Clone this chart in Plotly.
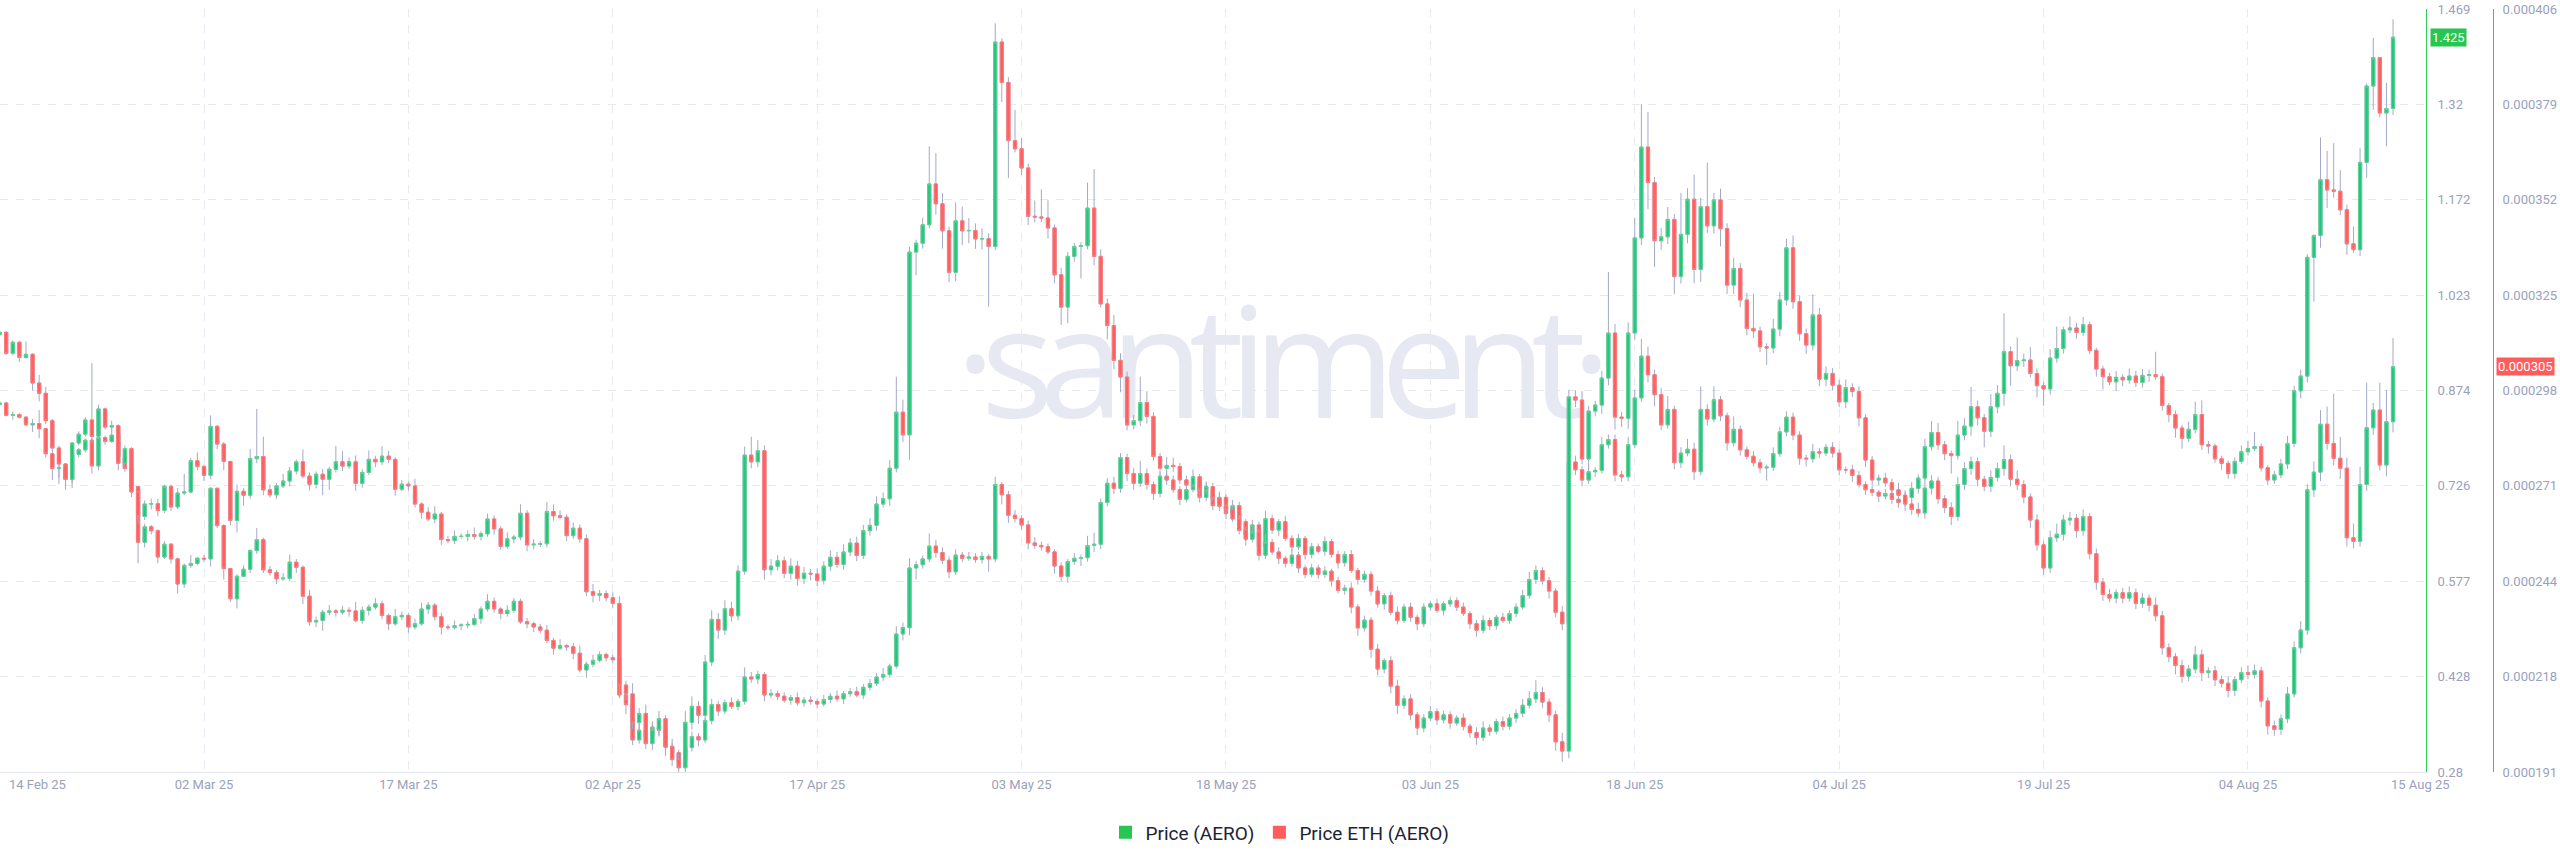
import numpy as np
import pandas as pd
import plotly.graph_objects as go

# ---------------- data: 12-hour candles ----------------
start_time = "2025-02-14 12:00"

# Price (AERO) in USD
usd_open0 = 0.853
usd_close = [
    # 14 Feb - 04 Mar
    0.855, 0.836, 0.837, 0.833, 0.821, 0.823, 0.815, 0.776, 0.753, 0.754,
    0.736, 0.775, 0.782, 0.797, 0.757, 0.801, 0.795, 0.805, 0.771, 0.753,
    0.725, 0.638, 0.662, 0.656, 0.615, 0.635, 0.612, 0.573, 0.602, 0.605,
    0.613, 0.612, 0.722, 0.664, 0.597, 0.550, 0.585, 0.596, 0.625, 0.642,
    0.595,
    # March
    0.591, 0.581, 0.582, 0.607, 0.599, 0.554, 0.514, 0.516, 0.529, 0.531,
    0.529, 0.532, 0.531, 0.516, 0.532, 0.537, 0.542, 0.524, 0.511, 0.522,
    0.524, 0.506, 0.511, 0.534, 0.540, 0.522, 0.506, 0.505, 0.508, 0.509,
    0.510, 0.519, 0.534, 0.546, 0.534, 0.527, 0.532, 0.546, 0.514, 0.511,
    0.506, 0.501, 0.485, 0.473, 0.477, 0.475, 0.465, 0.439, 0.448, 0.454,
    0.463, 0.458,
    # April - mid May
    0.455, 0.400, 0.385, 0.330, 0.345, 0.335, 0.350, 0.345, 0.320, 0.310,
    0.298, 0.318, 0.335, 0.330, 0.360, 0.385, 0.375, 0.388, 0.382, 0.390,
    0.428, 0.425, 0.432, 0.400, 0.402, 0.398, 0.392, 0.396, 0.388, 0.392,
    0.390, 0.386, 0.393, 0.398, 0.394, 0.402, 0.405, 0.400, 0.412, 0.418,
    0.428, 0.432, 0.445, 0.495, 0.505, 0.598, 0.603, 0.612, 0.632, 0.622,
    0.610, 0.592, 0.618, 0.613, 0.615, 0.611, 0.616, 0.612, 0.728, 0.712,
    0.680, 0.675, 0.665, 0.637, 0.633, 0.631, 0.623, 0.601, 0.585, 0.608,
    0.613, 0.614, 0.633, 0.635, 0.700, 0.730, 0.722, 0.770, 0.745, 0.730,
    0.745, 0.728, 0.714, 0.741, 0.735, 0.720, 0.705,
    # mid May - 13 Jun
    0.720, 0.733, 0.708, 0.720, 0.695, 0.708, 0.683, 0.695, 0.670, 0.650,
    0.665, 0.631, 0.675, 0.657, 0.670, 0.644, 0.631, 0.644, 0.619, 0.631,
    0.624, 0.639, 0.619, 0.606, 0.619, 0.594, 0.580, 0.588, 0.562, 0.542,
    0.555, 0.529, 0.516, 0.537, 0.521, 0.511, 0.537, 0.542, 0.532, 0.542,
    0.547, 0.537, 0.527, 0.511, 0.501, 0.516, 0.508, 0.521, 0.516, 0.527,
    0.537, 0.555, 0.580, 0.594, 0.578, 0.562, 0.529, 0.511, 0.763,
    # 14 Jun - 20 Jul
    0.751, 0.735, 0.748, 0.750, 0.790, 0.798, 0.743, 0.740, 0.790, 0.863,
    0.928, 0.899, 0.868, 0.821, 0.845, 0.762, 0.777, 0.783, 0.748, 0.845,
    0.830, 0.860, 0.835, 0.793, 0.814, 0.782, 0.772, 0.762, 0.754, 0.755,
    0.776, 0.810, 0.833, 0.805, 0.769, 0.768, 0.779, 0.777, 0.786, 0.777,
    0.751, 0.751, 0.742, 0.728, 0.720, 0.716, 0.710, 0.714, 0.705, 0.700,
    0.708, 0.722, 0.738, 0.787, 0.809, 0.790, 0.776, 0.773, 0.805, 0.819,
    0.849, 0.832, 0.811, 0.849, 0.870, 0.935, 0.913, 0.921, 0.922, 0.901,
    0.882, 0.877, 0.925, 0.940,
    # 21 Jul - 15 Aug
    0.969, 0.972, 0.965, 0.977, 0.937, 0.908, 0.896, 0.888, 0.895, 0.891,
    0.897, 0.887, 0.898, 0.899, 0.896, 0.851, 0.837, 0.816, 0.800, 0.814,
    0.837, 0.790, 0.788, 0.768, 0.761, 0.745, 0.764, 0.779, 0.784, 0.787,
    0.754, 0.735, 0.743, 0.760, 0.792, 0.874, 0.897, 1.082, 1.116, 1.203,
    1.187, 1.185, 1.156, 1.103, 1.094, 1.230, 1.349, 1.393, 1.307, 1.314,
    1.425,
]
# wick lengths above / below the body, in thousandths of a dollar
usd_wick_up = [
    2, 2, 5, 2, 1, 7, 21, 1, 2, 30, 3, 1, 3, 3, 3, 2, 3, 10, 3, 4,
    2, 0, 5, 3, 2, 5, 2, 2, 3, 13, 2, 5, 2, 2, 2, 1, 3, 6, 2, 18, 3,
    6, 4, 8, 12, 5, 3, 10, 6, 4, 9, 3, 7, 5, 14, 6, 4, 9, 5, 3, 12,
    6, 4, 8, 10, 5, 3, 6, 4, 8, 3, 5, 7, 4, 11, 6, 3, 8, 5, 4, 6,
    3, 5, 8, 4, 10, 3, 6, 12, 4, 9, 5, 3,
    5, 8, 4, 6, 12, 5, 9, 4, 7, 6, 5, 10, 8, 6, 4, 9, 6, 5, 8, 4,
    15, 8, 6, 4, 7, 5, 6, 4, 8, 5, 6, 4, 7, 5, 9, 4, 6, 8, 5, 7,
    6, 10, 4, 12, 8, 15, 6, 5, 20, 10, 8, 6, 9, 5, 8, 6, 7, 4, 12, 4,
    6, 8, 5, 7, 9, 6, 5, 4, 6, 4, 8, 5, 15, 18, 6, 8, 10, 7, 6, 9,
    20, 8, 5, 6, 8, 7, 5,
    6, 8, 5, 10, 4, 7, 5, 9, 6, 4, 8, 5, 12, 6, 4, 9, 5, 7, 4, 6,
    5, 8, 4, 6, 5, 7, 4, 6, 5, 8, 4, 6, 9, 5, 7, 4, 6, 5, 8, 4,
    6, 5, 7, 4, 6, 8, 5, 4, 7, 5, 6, 9, 12, 8, 5, 6, 4, 10, 12,
    10, 6, 8, 5, 12, 8, 8, 6, 12, 13, 27, 15, 8, 10, 21, 6, 9, 16, 10, 36,
    8, 21, 6, 5, 20, 6, 5, 8, 6, 4, 10, 8, 9, 7, 6, 5, 12, 6, 5, 8,
    6, 5, 8, 7, 5, 6, 4, 7, 5, 6, 8, 10, 6, 12, 18, 15, 6, 5, 22, 12,
    31, 10, 6, 20, 13, 60, 8, 36, 10, 20, 8, 6, 14, 34,
    5, 18, 8, 12, 5, 4, 5, 6, 10, 5, 12, 8, 10, 8, 36, 5, 4, 6, 5, 12,
    20, 22, 6, 4, 5, 4, 6, 10, 12, 23, 5, 4, 6, 8, 12, 8, 10, 5, 2, 66,
    45, 73, 33, 8, 27, 22, 4, 31, 0, 40, 28,
]
usd_wick_dn = [
    2, 2, 7, 2, 2, 11, 15, 6, 18, 24, 9, 6, 5, 4, 12, 7, 5, 2, 6, 5,
    5, 33, 8, 6, 10, 3, 7, 15, 6, 4, 3, 5, 12, 4, 17, 5, 15, 0, 6, 5, 5,
    5, 8, 3, 4, 9, 12, 6, 8, 16, 5, 7, 4, 9, 3, 5, 8, 4, 6, 10, 3,
    5, 9, 4, 3, 8, 6, 12, 4, 3, 7, 5, 3, 8, 4, 6, 9, 5, 4, 3, 7,
    8, 5, 4, 10, 3, 6, 9, 4, 12, 5, 3, 6,
    6, 5, 15, 8, 6, 10, 5, 8, 6, 12, 8, 5, 6, 10, 5, 6, 8, 5, 4, 6,
    5, 6, 8, 10, 5, 6, 4, 7, 5, 6, 5, 7, 4, 6, 5, 8, 5, 4, 6, 5,
    4, 6, 5, 4, 10, 12, 18, 6, 5, 8, 6, 10, 5, 6, 4, 5, 6, 20, 5, 15,
    12, 6, 8, 10, 5, 6, 4, 12, 8, 10, 5, 12, 6, 10, 8, 6, 9, 7, 12, 10,
    6, 8, 10, 6, 8, 5, 9,
    5, 4, 8, 6, 7, 4, 9, 5, 6, 10, 4, 8, 5, 6, 9, 4, 7, 5, 8, 6,
    4, 7, 5, 9, 6, 4, 8, 5, 7, 6, 9, 5, 6, 4, 7, 10, 5, 6, 4, 8,
    5, 6, 4, 8, 10, 5, 7, 6, 4, 5, 6, 4, 5, 7, 6, 12, 8, 10, 6,
    8, 10, 6, 8, 5, 6, 10, 8, 7, 5, 6, 12, 18, 8, 6, 10, 8, 5, 13, 6,
    10, 5, 8, 12, 6, 9, 5, 6, 8, 20, 6, 5, 7, 8, 10, 12, 6, 8, 5, 7,
    8, 6, 10, 5, 8, 6, 9, 5, 7, 8, 6, 9, 8, 3, 6, 8, 10, 28, 6, 8,
    15, 12, 25, 9, 10, 19, 31, 8, 10, 6, 18, 26, 9, 7,
    8, 5, 10, 6, 6, 12, 20, 5, 14, 10, 6, 7, 8, 10, 5, 8, 12, 15, 16, 6,
    6, 8, 12, 6, 10, 8, 8, 4, 6, 4, 6, 8, 6, 5, 8, 6, 12, 10, 69, 19,
    28, 10, 8, 17, 5, 10, 24, 37, 7, 52, 10,
]

# Price ETH (AERO), in millionths of ETH
eth_open0 = 314.3
eth_close = [
    314.9, 309.0, 312.1, 307.8, 308.7, 300.6, 297.7, 290.0, 282.3, 277.8,
    273.5, 283.7, 286.2, 290.2, 285.6, 293.3, 288.2, 288.6, 278.0, 282.1,
    269.9, 263.0, 266.5, 266.6, 264.7, 271.5, 265.7, 269.6, 269.9, 278.7,
    277.1, 274.6, 288.4, 283.4, 278.5, 261.9, 270.1, 269.0, 279.3, 279.9,
    270.5,
    269.1, 271.6, 273.0, 275.8, 278.4, 274.4, 272.1, 274.9, 273.5, 276.3,
    278.4, 277.2, 278.4, 272.3, 275.4, 279.1, 278.4, 280.0, 279.1, 270.7,
    272.1, 271.6, 266.5, 264.2, 262.3, 263.7, 256.5, 256.2, 257.4, 257.4,
    257.9, 257.4, 258.1, 262.3, 259.5, 254.6, 256.7, 257.2, 263.9, 255.0,
    255.2, 255.3, 264.4, 263.2, 262.8, 257.6, 259.7, 256.7, 241.8, 240.8,
    241.3, 240.1,
    238.5, 215.5, 213.0, 205.0, 207.5, 199.0, 203.0, 206.0, 198.0, 194.5,
    192.2, 205.0, 209.5, 207.0, 222.0, 234.0, 231.0, 237.0, 235.0, 247.6,
    280.3, 278.4, 281.5, 248.0, 249.0, 250.5, 247.0, 249.0, 245.5, 247.0,
    246.8, 245.0, 249.0, 251.5, 249.5, 253.0, 255.5, 252.0, 259.0, 260.5,
    266.5, 268.0, 276.6, 292.4, 286.0, 337.5, 340.0, 345.2, 356.7, 351.1,
    343.5, 331.8, 346.3, 343.5, 343.6, 341.2, 341.3, 339.1, 396.7, 385.3,
    368.9, 366.6, 361.2, 347.6, 347.4, 347.1, 344.3, 331.1, 322.0, 336.3,
    339.1, 339.3, 349.9, 336.3, 322.9, 316.8, 307.0, 302.3, 288.8, 290.0,
    295.1, 291.2, 279.9, 276.6, 277.4, 277.1, 273.3,
    271.9, 274.2, 270.5, 271.4, 268.2, 265.9, 265.0, 262.3, 259.1, 256.6,
    258.6, 252.1, 255.7, 253.0, 251.2, 249.8, 252.1, 248.5, 246.7, 248.5,
    246.7, 247.6, 244.9, 242.2, 242.8, 237.5, 231.6, 233.8, 225.6, 220.0,
    222.4, 215.2, 209.8, 211.6, 207.1, 203.4, 206.2, 208.0, 205.7, 207.1,
    204.8, 206.2, 203.9, 202.1, 200.7, 203.4, 202.5, 205.2, 203.9, 206.2,
    207.5, 209.8, 211.6, 213.4, 210.7, 207.1, 199.5, 196.9, 296.7,
    295.8, 279.2, 292.7, 294.4, 302.0, 314.7, 291.0, 290.7, 314.7, 341.5,
    367.1, 357.1, 340.7, 341.8, 346.7, 330.6, 342.5, 352.4, 332.6, 350.3,
    344.9, 352.2, 344.1, 328.2, 332.9, 324.0, 316.0, 315.3, 310.8, 310.5,
    315.8, 324.0, 338.7, 323.5, 314.5, 311.3, 319.8, 301.7, 303.3, 300.0,
    295.3, 299.3, 298.2, 290.8, 278.9, 273.3, 273.8, 272.5, 270.5, 269.0,
    266.5, 265.0, 264.0, 271.0, 273.0, 268.0, 265.5, 263.0, 272.0, 276.5,
    278.4, 273.5, 271.5, 274.0, 276.5, 279.0, 273.5, 272.0, 268.5, 262.0,
    255.0, 248.5, 257.0, 258.0,
    262.0, 262.5, 259.0, 263.0, 252.5, 244.5, 241.0, 240.0, 241.5, 240.0,
    241.5, 238.5, 240.0, 238.0, 235.0, 226.0, 223.5, 221.0, 218.0, 220.0,
    224.0, 219.0, 219.5, 217.0, 216.0, 214.0, 217.0, 219.0, 218.5, 219.5,
    211.0, 204.0, 203.0, 206.0, 213.0, 226.0, 231.0, 270.5, 275.5, 289.0,
    283.6, 279.4, 276.6, 257.0, 256.0, 272.0, 288.0, 293.0, 277.5, 289.7,
    305.2,
]
# wick lengths above / below the body, in millionths of ETH
eth_wick_up = [
    0.6, 0.4, 0.5, 0.4, 3.6, 0.3, 2.3, 1.8, 0.5, 0.7, 0.2, 0.3, 0.8, 0.8, 16.0, 1.2, 0.4, 1.4, 0.4, 0.9,
    0.4, 0.1, 1.0, 1.4, 1.4, 0.5, 0.5, 1.4, 5.1, 0.8, 2.3, 0.4, 3.1, 0.4, 0.6, 0.2, 1.9, 0.9, 2.7, 13.4, 5.6,
    1.5, 0.8, 2.0, 1.2, 0.6, 3.5, 1.0, 0.8, 1.5, 0.7, 4.5, 3.0, 1.2, 1.8, 0.9, 2.5, 1.0, 2.8, 1.5, 0.6,
    1.2, 0.8, 2.0, 0.5, 1.4, 2.2, 0.6, 1.0, 1.6, 0.8, 1.2, 2.0, 0.7, 1.5, 1.0, 0.8, 1.8, 0.6, 2.5, 0.9,
    1.4, 0.7, 2.6, 2.0, 1.5, 0.8, 1.6, 1.0, 1.2, 2.2, 1.0, 0.9,
    1.5, 2.0, 1.2, 3.0, 1.5, 2.5, 1.8, 2.2, 1.0, 2.4, 1.6, 3.2, 2.8, 1.5, 2.0, 2.6, 1.8, 2.4, 2.0, 1.6,
    2.4, 5.2, 3.0, 1.5, 2.0, 1.6, 1.2, 2.2, 1.5, 1.8, 1.2, 1.6, 1.4, 2.0, 1.5, 2.2, 1.4, 1.8, 1.6, 2.0,
    2.2, 1.8, 2.3, 10.0, 3.5, 1.5, 1.0, 2.0, 10.6, 8.7, 3.0, 1.2, 5.2, 4.0, 3.5, 2.0, 2.8, 1.5, 5.3, 1.0,
    1.5, 8.7, 3.0, 1.2, 4.4, 7.8, 5.0, 1.0, 2.0, 1.2, 1.0, 1.0, 7.2, 11.0, 2.0, 1.5, 3.0, 2.0, 1.5, 1.6,
    7.3, 3.2, 1.2, 1.0, 2.4, 2.2, 1.0,
    1.2, 2.0, 0.8, 1.5, 1.0, 1.8, 0.7, 1.4, 1.1, 0.9, 1.6, 0.8, 2.4, 1.0, 1.3, 0.7, 1.5, 1.0, 0.8, 1.2,
    0.9, 1.4, 0.7, 1.1, 1.0, 1.6, 0.8, 1.3, 0.9, 1.5, 0.7, 1.2, 1.8, 1.0, 1.4, 0.8, 1.1, 1.6, 0.9, 1.2,
    1.0, 0.8, 1.3, 0.7, 1.5, 1.9, 1.0, 0.8, 1.4, 1.1, 1.2, 1.8, 2.2, 3.5, 1.5, 1.0, 1.2, 2.5, 2.0,
    1.8, 2.5, 1.5, 1.2, 2.0, 17.2, 2.5, 1.5, 3.0, 5.6, 12.1, 9.9, 1.5, 2.5, 3.5, 1.5, 11.7, 3.1, 6.9, 2.5,
    12.4, 2.0, 3.2, 1.5, 3.0, 1.5, 2.0, 9.8, 1.2, 1.0, 2.9, 2.3, 2.5, 3.5, 1.8, 1.5, 5.8, 2.0, 2.0, 1.5,
    1.5, 2.3, 1.2, 1.5, 1.0, 1.2, 1.0, 1.5, 1.2, 2.0, 1.4, 1.0, 1.8, 2.5, 1.6, 1.2, 1.0, 1.5, 2.2, 1.8,
    1.5, 1.2, 1.0, 2.0, 1.6, 4.0, 1.4, 2.5, 1.2, 1.0, 1.6, 1.2, 2.0, 3.0,
    1.5, 1.8, 1.2, 2.0, 1.0, 1.5, 1.2, 1.6, 1.0, 1.4, 1.8, 1.2, 1.5, 1.0, 2.2, 1.4, 1.2, 1.0, 1.6, 1.2,
    2.5, 1.5, 1.0, 1.4, 1.2, 1.8, 1.0, 1.5, 2.0, 1.8, 1.2, 1.0, 1.5, 1.2, 2.0, 1.8, 2.5, 1.6, 3.0, 4.0,
    5.0, 14.0, 6.0, 3.0, 4.0, 5.0, 12.7, 2.0, 7.7, 9.0, 8.1,
]
eth_wick_dn = [
    0.5, 0.5, 0.6, 1.3, 0.3, 2.1, 2.3, 1.0, 1.3, 3.8, 3.0, 2.5, 0.7, 0.7, 2.1, 0.6, 0.7, 1.2, 2.0, 1.0,
    1.4, 2.0, 1.0, 1.5, 1.7, 0.7, 1.2, 0.7, 0.6, 0.4, 1.1, 1.6, 1.1, 1.4, 2.5, 1.4, 3.4, 3.0, 1.0, 1.3, 1.5,
    0.8, 1.2, 0.6, 1.5, 1.0, 0.7, 1.8, 1.2, 4.5, 3.0, 0.9, 1.4, 0.8, 2.0, 1.2, 0.7, 1.5, 0.9, 1.1, 1.8,
    0.6, 1.3, 1.0, 1.8, 0.7, 1.2, 1.5, 0.8, 1.0, 0.6, 1.4, 0.9, 1.2, 0.8, 1.6, 1.0, 0.7, 1.3, 0.9, 1.8,
    1.2, 0.8, 1.0, 1.4, 0.6, 1.5, 0.9, 1.1, 1.3, 2.0, 1.6, 1.0,
    1.2, 3.4, 1.8, 2.0, 2.5, 1.5, 1.8, 2.0, 2.4, 1.8, 1.2, 1.6, 2.0, 2.4, 1.5, 1.2, 2.5, 1.4, 1.6, 1.2,
    1.0, 1.8, 1.5, 2.8, 1.6, 1.2, 1.4, 1.8, 2.0, 1.5, 1.8, 1.6, 1.2, 1.4, 1.0, 1.5, 1.2, 1.6, 1.0, 1.4,
    1.5, 1.0, 2.0, 1.2, 2.0, 7.0, 6.5, 1.5, 1.0, 3.0, 5.0, 2.8, 2.5, 4.0, 3.5, 2.8, 3.0, 17.0, 1.0, 5.5,
    10.5, 1.0, 2.0, 2.5, 1.5, 1.2, 3.0, 2.4, 5.0, 4.5, 1.5, 9.0, 1.0, 2.5, 1.0, 3.9, 2.5, 4.3, 1.5, 1.2,
    1.5, 2.0, 1.2, 2.0, 2.5, 1.5, 1.2,
    1.0, 0.8, 1.5, 1.2, 0.9, 1.4, 1.6, 0.8, 1.2, 1.8, 0.9, 1.5, 1.1, 0.8, 1.6, 1.2, 0.9, 1.4, 1.1, 0.8,
    1.3, 1.0, 1.6, 0.9, 1.2, 1.8, 2.2, 1.0, 2.5, 1.8, 1.2, 2.0, 2.4, 1.0, 1.5, 2.0, 1.2, 0.9, 1.4, 1.0,
    1.6, 0.8, 1.2, 1.5, 2.0, 1.0, 1.3, 0.9, 1.2, 1.0, 1.4, 1.1, 0.9, 1.2, 1.6, 2.0, 2.5, 3.0, 2.0,
    2.0, 1.5, 3.0, 1.5, 2.5, 2.0, 3.5, 2.5, 3.0, 2.0, 2.0, 7.5, 7.4, 2.5, 2.0, 4.9, 2.0, 2.5, 3.9, 3.5,
    2.0, 2.2, 5.0, 2.5, 2.5, 2.0, 2.0, 2.0, 1.5, 4.8, 1.5, 2.0, 1.5, 2.0, 2.0, 2.5, 1.5, 2.0, 2.0, 1.5,
    1.5, 1.8, 1.5, 2.5, 2.0, 1.5, 1.5, 1.2, 1.8, 1.4, 2.0, 1.5, 1.2, 1.6, 1.8, 1.4, 1.6, 2.4, 1.2, 1.5,
    1.8, 2.0, 1.4, 1.6, 1.2, 2.0, 2.0, 1.5, 1.8, 2.2, 1.6, 2.0, 1.4, 1.2,
    1.8, 1.5, 2.0, 1.4, 1.6, 2.2, 1.8, 1.2, 1.5, 1.4, 1.0, 1.6, 1.2, 1.8, 1.5, 2.0, 1.6, 2.5, 1.8, 1.4,
    1.2, 2.4, 1.5, 1.8, 1.2, 2.0, 1.6, 1.0, 1.4, 1.2, 1.8, 2.5, 1.8, 1.5, 1.2, 1.0, 1.6, 1.4, 2.0, 2.5,
    1.8, 2.0, 3.0, 2.5, 2.0, 1.5, 1.8, 2.0, 1.5, 3.2, 3.0,
]

x_tick_dates = ["2025-03-02 00:00", "2025-03-17 12:00", "2025-04-02 00:00",
                "2025-04-17 12:00", "2025-05-03 00:00", "2025-05-18 12:00",
                "2025-06-03 00:00", "2025-06-18 12:00", "2025-07-04 00:00",
                "2025-07-19 12:00", "2025-08-04 00:00"]
x_tick_labels = ["02 Mar 25", "17 Mar 25", "02 Apr 25", "17 Apr 25", "03 May 25",
                 "18 May 25", "03 Jun 25", "18 Jun 25", "04 Jul 25", "19 Jul 25",
                 "04 Aug 25"]
first_label = "14 Feb 25"
last_label = "15 Aug 25"

usd_range = [0.28, 1.469]
usd_tick_labels = ["0.28", "0.428", "0.577", "0.726", "0.874", "1.023", "1.172", "1.32", "1.469"]
eth_range = [0.000191, 0.000406]
eth_tick_labels = ["0.000191", "0.000218", "0.000244", "0.000271", "0.000298",
                   "0.000325", "0.000352", "0.000379", "0.000406"]

# ---------------- styling ----------------
GREEN = "#22c488"
GREEN_EDGE = "#5fd58a"
RED = "#ff5f5f"
RED_EDGE = "#ff7a7a"
WICK = "#a3a9c9"
AXIS_GREEN = "#2fcf5c"
AXIS_RED = "#ff6262"
TICK_COLOR = "#9aa1bd"
GRID = "#e6e9f2"
W, H = 2560, 867
PLOT_RIGHT = 2426
PLOT_TOP, PLOT_BOTTOM = 9, 772

t0 = pd.Timestamp(start_time)
step = pd.Timedelta(hours=12)


def build_ohlc(open0, close, up, dn, scale):
    n = min(len(close), len(up), len(dn))
    c = np.asarray(close[:n], dtype=float) * scale
    o = np.concatenate([[open0 * scale], c[:-1]])
    h = np.maximum(o, c) + np.asarray(up[:n], dtype=float) * scale
    l = np.minimum(o, c) - np.asarray(dn[:n], dtype=float) * scale
    x = [t0 + k * step for k in range(n)]
    return x, o, h, l, c


x_usd, usd_o, usd_h, usd_l, usd_c = build_ohlc(
    usd_open0, usd_close, np.asarray(usd_wick_up) / 1000.0,
    np.asarray(usd_wick_dn) / 1000.0, 1.0)
x_eth, eth_o, eth_h, eth_l, eth_c = build_ohlc(
    eth_open0, eth_close, eth_wick_up, eth_wick_dn, 1e-6)

fig = go.Figure()


def add_candles(x, o, h, l, c, yaxis):
    # thin grey wicks underneath
    fig.add_trace(go.Candlestick(
        x=x, open=o, high=h, low=l, close=c, yaxis=yaxis, showlegend=False,
        hoverinfo="skip",
        increasing=dict(line=dict(color=WICK, width=1), fillcolor=WICK),
        decreasing=dict(line=dict(color=WICK, width=1), fillcolor=WICK)))
    # coloured bodies on top
    fig.add_trace(go.Candlestick(
        x=x, open=o, high=np.maximum(o, c), low=np.minimum(o, c), close=c,
        yaxis=yaxis, showlegend=False, hoverinfo="skip",
        increasing=dict(line=dict(color=GREEN_EDGE, width=1), fillcolor=GREEN),
        decreasing=dict(line=dict(color=RED_EDGE, width=1), fillcolor=RED)))


add_candles(x_eth, eth_o, eth_h, eth_l, eth_c, "y2")
add_candles(x_usd, usd_o, usd_h, usd_l, usd_c, "y")

# legend entries
fig.add_trace(go.Scatter(x=[None], y=[None], mode="markers", name="Price (AERO)",
                         marker=dict(symbol="square", size=13, color="#27c552")))
fig.add_trace(go.Scatter(x=[None], y=[None], mode="markers", name="Price ETH (AERO)",
                         marker=dict(symbol="square", size=13, color="#ff5c5c")))

x_start = t0 + 0.06 * step
x_end = t0 + 368 * step
grid_vals = [x_start] + [pd.Timestamp(d) for d in x_tick_dates]
grid_text = [""] + x_tick_labels
dom_right = PLOT_RIGHT / W

fig.update_layout(
    width=W, height=H,
    margin=dict(l=0, r=0, t=PLOT_TOP, b=H - PLOT_BOTTOM),
    paper_bgcolor="white", plot_bgcolor="white",
    font=dict(family="Roboto", size=13, color=TICK_COLOR),
    showlegend=True,
    legend=dict(orientation="h", x=0.5, xanchor="center", yref="container", y=0.04,
                yanchor="middle", font=dict(size=19, color="#1c2338", family="Roboto"),
                itemwidth=30, bgcolor="rgba(0,0,0,0)"),
    xaxis=dict(type="date", domain=[0, dom_right], range=[x_start, x_end],
               rangeslider=dict(visible=False), tickvals=grid_vals, ticktext=grid_text,
               showgrid=True, gridcolor=GRID, griddash="8px,8px", gridwidth=1,
               showline=True, linecolor="#e2e5ee", linewidth=1, ticks="",
               tickfont=dict(size=13, color=TICK_COLOR), zeroline=False,
               fixedrange=True),
    yaxis=dict(range=usd_range, side="right", anchor="x",
               tickvals=list(np.linspace(usd_range[0], usd_range[1], 9)),
               ticktext=usd_tick_labels, showgrid=True, gridcolor=GRID,
               griddash="8px,8px", showline=True, linecolor=AXIS_GREEN, linewidth=1,
               ticks="", ticklabelstandoff=8, zeroline=False,
               tickfont=dict(size=13, color=TICK_COLOR)),
    yaxis2=dict(range=eth_range, side="right", overlaying="y", anchor="free",
                position=2493 / W,
                tickvals=list(np.linspace(eth_range[0], eth_range[1], 9)),
                ticktext=eth_tick_labels, showgrid=False, showline=True,
                linecolor=AXIS_RED, linewidth=1, ticks="", ticklabelstandoff=6,
                zeroline=False, tickfont=dict(size=13, color=TICK_COLOR)),
)

# watermark behind the candles
wm_cx, wm_cy = 1276 / W, 0.528
fig.add_shape(type="rect", xref="paper", yref="paper", x0=wm_cx - 0.1, x1=wm_cx + 0.1,
              y0=wm_cy - 0.13, y1=wm_cy + 0.13, layer="below", line=dict(width=0),
              fillcolor="rgba(0,0,0,0)",
              label=dict(text='<span style="letter-spacing:-15px">·santiment·</span>',
                         textposition="middle center",
                         font=dict(size=154, color="#e6e8f2", family="Open Sans")))

# first and last date labels
fig.add_annotation(text=first_label, xref="paper", yref="paper", x=7 / W, y=-0.017,
                   xanchor="left", yanchor="middle", showarrow=False,
                   font=dict(size=13, color=TICK_COLOR))
fig.add_annotation(text=last_label, xref="paper", yref="paper", x=2420 / W, y=-0.017,
                   xanchor="center", yanchor="middle", showarrow=False,
                   font=dict(size=13, color=TICK_COLOR))

# last-value tags
fig.add_annotation(text=f"{usd_c[-1]:.3f}", xref="paper", yref="y", x=2430 / W,
                   y=usd_c[-1], xanchor="left", yanchor="middle", showarrow=False,
                   bgcolor="#27c552", font=dict(size=13, color="white"), borderpad=1)
fig.add_annotation(text=f"{eth_c[-1]:.6f}", xref="paper", yref="y2", x=2496 / W,
                   y=eth_c[-1], xanchor="left", yanchor="middle", showarrow=False,
                   bgcolor="#ff5c5c", font=dict(size=13, color="white"), borderpad=1)

fig.write_html("out.html", config={"displayModeBar": False},
               post_script="document.body.style.margin='0';")
